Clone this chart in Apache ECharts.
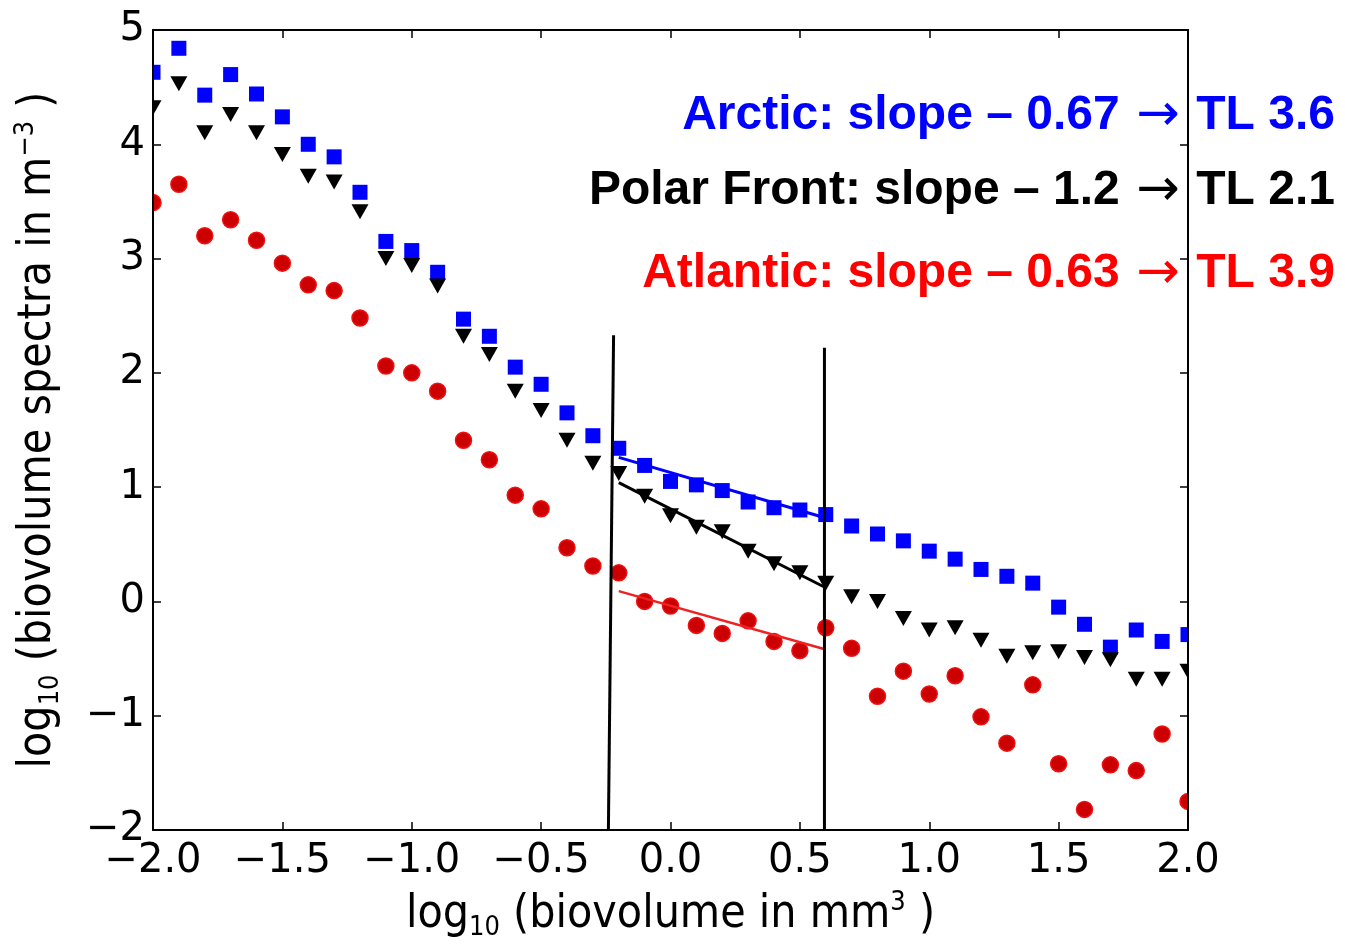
<!DOCTYPE html>
<html>
<head>
<meta charset="utf-8">
<script src="https://cdn.jsdelivr.net/npm/echarts@6/dist/echarts.min.js"></script>
<style>
  html, body { margin: 0; padding: 0; background: #fff; }
  #chart { width: 1345px; height: 952px; }
</style>
</head>
<body>
<div id="chart"></div>
<script>
// log10 biovolume (mm3) bins
const binX = [-2.0, -1.9, -1.8, -1.7, -1.6, -1.5, -1.4, -1.3, -1.2, -1.1,
  -1.0, -0.9, -0.8, -0.7, -0.6, -0.5, -0.4, -0.3, -0.2, -0.1,
  0.0, 0.1, 0.2, 0.3, 0.4, 0.5, 0.6, 0.7, 0.8, 0.9,
  1.0, 1.1, 1.2, 1.3, 1.4, 1.5, 1.6, 1.7, 1.8, 1.9, 2.0]

const arctic = [4.63, 4.84, 4.43, 4.61, 4.44, 4.24, 4.00, 3.89, 3.58, 3.15,
  3.07, 2.88, 2.47, 2.32, 2.05, 1.90, 1.65, 1.45, 1.34, 1.19,
  1.05, 1.02, 0.97, 0.87, 0.82, 0.80, 0.76, 0.66, 0.59, 0.53,
  0.44, 0.37, 0.28, 0.22, 0.16, -0.05, -0.20, -0.40, -0.25, -0.35, -0.29]

const polarFront = [4.32, 4.53, 4.10, 4.26, 4.10, 3.91, 3.72, 3.67, 3.41, 3.00,
  2.94, 2.76, 2.32, 2.16, 1.84, 1.67, 1.41, 1.21, 1.12, 0.92,
  0.75, 0.65, 0.61, 0.44, 0.33, 0.25, 0.16, 0.04, 0.00, -0.15,
  -0.25, -0.23, -0.34, -0.48, -0.45, -0.44, -0.49, -0.51, -0.68, -0.68, -0.61]

const atlantic = [3.49, 3.65, 3.20, 3.34, 3.16, 2.96, 2.77, 2.72, 2.48, 2.06,
  2.00, 1.84, 1.41, 1.24, 0.93, 0.81, 0.47, 0.31, 0.25, 0.00,
  -0.04, -0.21, -0.28, -0.17, -0.35, -0.43, -0.23, -0.41, -0.83, -0.61,
  -0.81, -0.65, -1.01, -1.24, -0.73, -1.42, -1.82, -1.43, -1.48, -1.16, -1.75]

// fitted slopes over the -0.2 .. 0.6 window
const arcticFit = [[-0.2, 1.26], [0.6, 0.73]]
const polarFit = [[-0.2, 1.04], [0.6, 0.12]]
const atlanticFit = [[-0.2, 0.09], [0.6, -0.42]]

// window boundaries
const leftBound = [[-0.22, 2.33], [-0.24, -2]]
const rightBound = [[0.595, 2.22], [0.595, -2]]

const xTickLabels = ['\u22122.0', '\u22121.5', '\u22121.0', '\u22120.5', '0.0', '0.5', '1.0', '1.5', '2.0']
const yTickLabels = ['\u22122', '\u22121', '0', '1', '2', '3', '4', '5']

const annotations = [
  { name: 'Arctic', slope: '0.67', tl: '3.6', color: '#0000ff' },
  { name: 'Polar Front', slope: '1.2', tl: '2.1', color: '#000000' },
  { name: 'Atlantic', slope: '0.63', tl: '3.9', color: '#ff0000' },
]
const annotationTops = [90, 165, 248]

const pairs = ys => binX.map((x, i) => [x, ys[i]])

const tickFont = '"DejaVu Sans", sans-serif'
const nameFont = '"DejaVu Sans Condensed", "Liberation Sans Narrow", "DejaVu Sans", sans-serif'
const nameRich = {
  a: { fontFamily: nameFont, fontSize: 46, color: '#000', lineHeight: 54 },
  sub: { fontFamily: nameFont, fontSize: 27, color: '#000', padding: [25, 0, 0, 0] },
  sup: { fontFamily: nameFont, fontSize: 27, color: '#000', padding: [0, 0, 25, 0] },
}

function frameAxis(pos, show) {
  return {
    type: 'value',
    position: pos,
    z: 10,
    axisLine: { show: true, onZero: false, lineStyle: { color: '#000', width: 2 } },
    axisTick: { show: true, inside: true, length: 8, lineStyle: { color: '#000', width: 1.5 } },
    splitLine: { show: false },
    axisLabel: { show: show },
  }
}

const chart = echarts.init(document.getElementById('chart'))
chart.setOption({
  animation: false,
  backgroundColor: '#fff',
  grid: { left: 153, right: 157, top: 30, bottom: 122, containLabel: false },
  xAxis: [
    Object.assign(frameAxis('bottom', true), {
      min: -2, max: 2, interval: 0.5,
      axisLabel: {
        show: true, margin: 12, fontFamily: tickFont, fontSize: 40, color: '#000',
        formatter: v => xTickLabels[Math.round((v + 2) / 0.5)],
      },
      name: '{a|log}{sub|10}{a| (biovolume in mm}{sup|3}{a| )}',
      nameLocation: 'middle',
      nameGap: 58,
      nameTextStyle: { rich: nameRich },
    }),
    Object.assign(frameAxis('top', false), { min: -2, max: 2, interval: 0.5 }),
  ],
  yAxis: [
    Object.assign(frameAxis('left', true), {
      min: -2, max: 5, interval: 1,
      axisLabel: {
        show: true, margin: 8, fontFamily: tickFont, fontSize: 40, color: '#000',
        formatter: v => yTickLabels[Math.round(v + 2)],
      },
      name: '{a|log}{sub|10}{a| (biovolume spectra in m}{sup|\u22123}{a| )}',
      nameLocation: 'middle',
      nameRotate: 90,
      nameGap: 88,
      nameTextStyle: { rich: nameRich },
    }),
    Object.assign(frameAxis('right', false), { min: -2, max: 5, interval: 1 }),
  ],
  graphic: [
    // hide the halves of edge markers that fall outside the frame
    { type: 'rect', z: 5, silent: true, shape: { x: 0, y: 0, width: 152, height: 952 }, style: { fill: '#fff' } },
    { type: 'rect', z: 5, silent: true, shape: { x: 1189, y: 0, width: 156, height: 952 }, style: { fill: '#fff' } },
  ].concat(annotations.map((a, i) => ({
    type: 'text',
    z: 20,
    right: 10,
    top: annotationTops[i],
    style: {
      text: `{b|${a.name}: slope \u2013 ${a.slope}}{r| \u2192 }{b|TL ${a.tl}}`,
      rich: {
        b: { fontFamily: '"Liberation Sans", Arial, sans-serif', fontWeight: 'bold', fontSize: 48, fill: a.color },
        r: { fontFamily: '"DejaVu Sans", sans-serif', fontWeight: 'normal', fontSize: 52, fill: a.color },
      },
    },
  }))),
  series: [
    {
      name: 'Arctic', type: 'scatter', data: pairs(arctic),
      symbol: 'rect', symbolSize: 15,
      itemStyle: { color: '#0000ff', opacity: 1 },
    },
    {
      name: 'Polar Front', type: 'scatter', data: pairs(polarFront),
      symbol: 'triangle', symbolSize: [17, 15], symbolRotate: 180,
      itemStyle: { color: '#000', opacity: 1 },
    },
    {
      name: 'Atlantic', type: 'scatter', data: pairs(atlantic),
      symbol: 'circle', symbolSize: 16,
      itemStyle: { color: '#cc0000', borderColor: '#ee1111', borderWidth: 1.5, opacity: 1 },
    },
    { type: 'line', data: arcticFit, showSymbol: false, lineStyle: { color: '#0000ff', width: 3 }, z: 3 },
    { type: 'line', data: polarFit, showSymbol: false, lineStyle: { color: '#000', width: 3 }, z: 3 },
    { type: 'line', data: atlanticFit, showSymbol: false, lineStyle: { color: '#ee2222', width: 2.5 }, z: 3 },
    { type: 'line', data: leftBound, showSymbol: false, lineStyle: { color: '#000', width: 3 }, z: 3 },
    { type: 'line', data: rightBound, showSymbol: false, lineStyle: { color: '#000', width: 3 }, z: 3 },
  ],
})
</script>
</body>
</html>
